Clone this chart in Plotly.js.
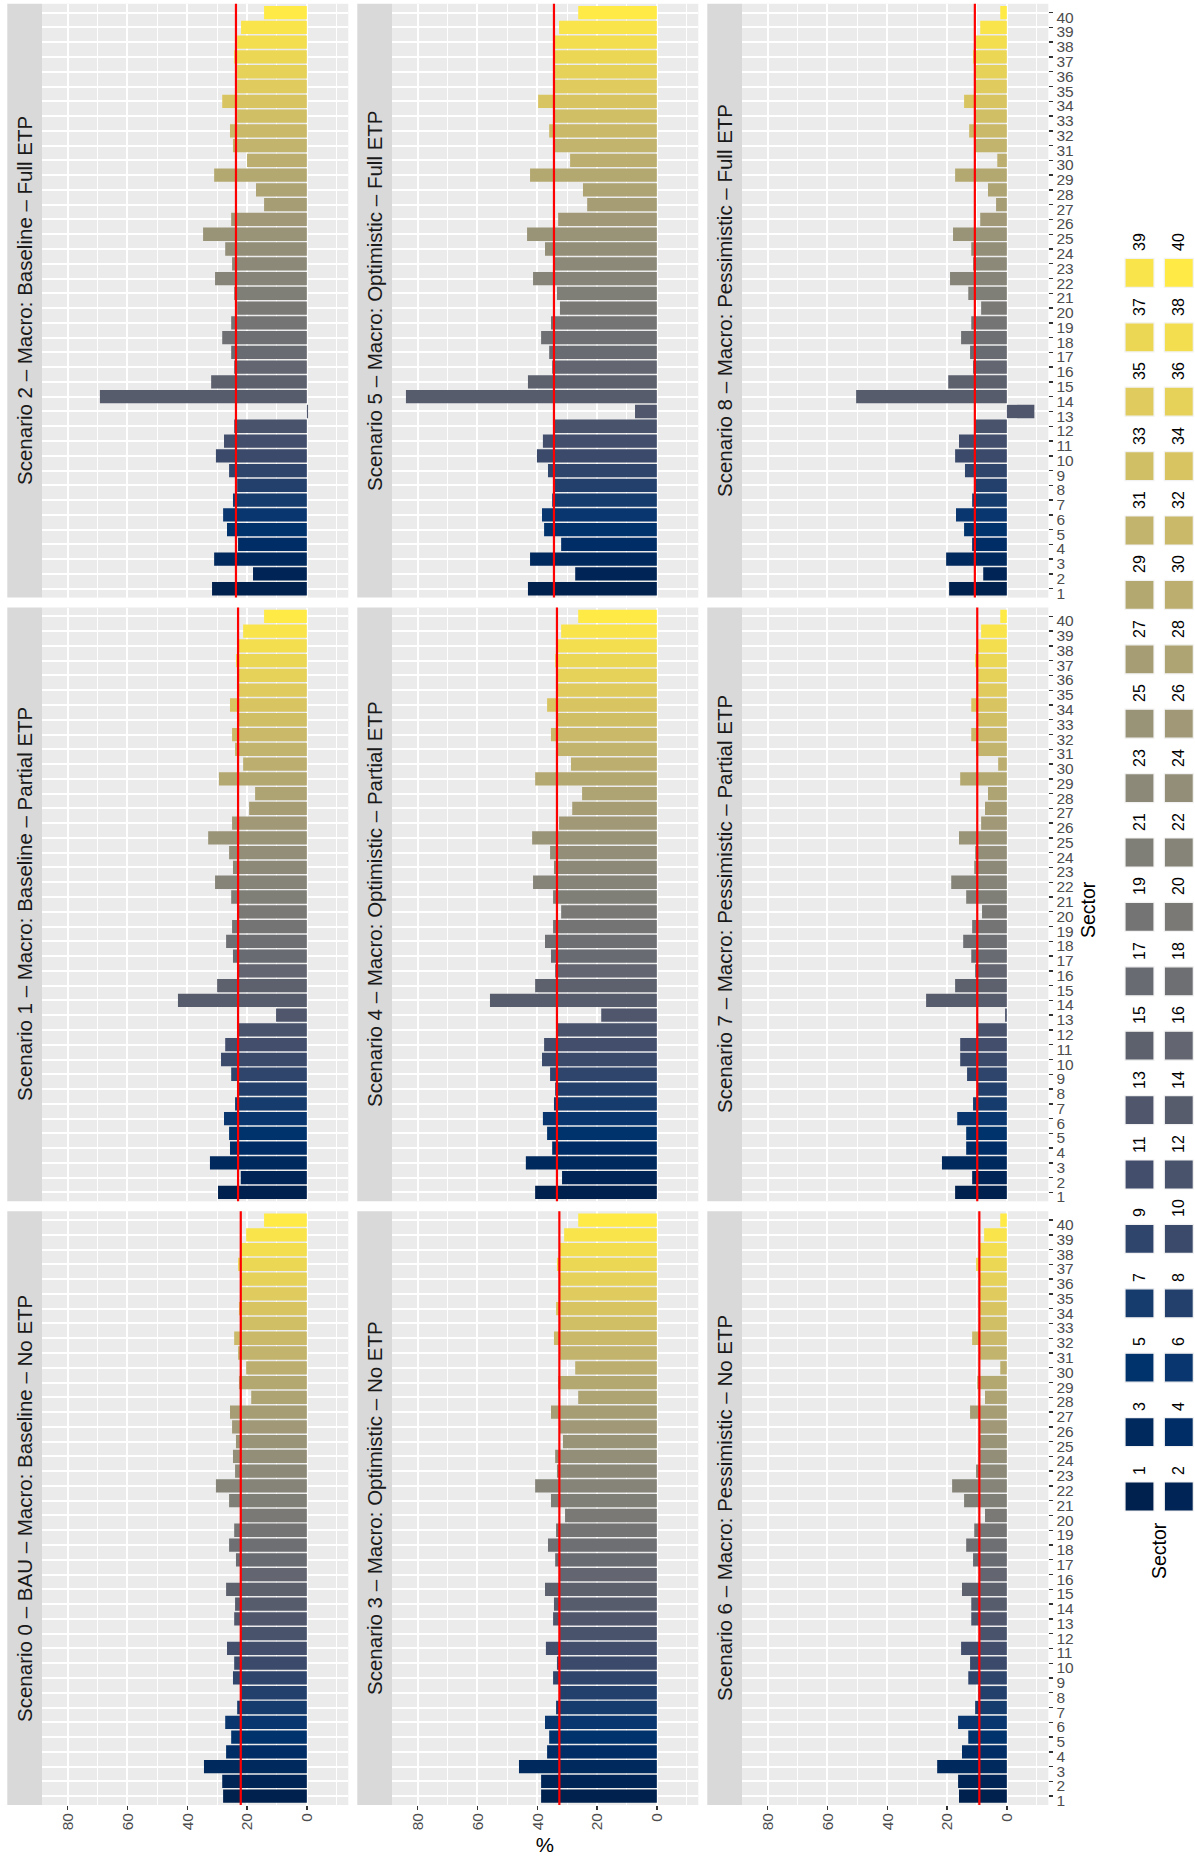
<!DOCTYPE html>
<html>
<head>
<meta charset="utf-8">
<script src="https://cdn.plot.ly/plotly-3.0.1.min.js"></script>
<style>
html, body { margin:0; padding:0; width:1195px; height:1859px; overflow:hidden; background:#ffffff; }
#wrap { position:absolute; left:0; top:0; width:1859px; height:1195px; transform-origin:0 0; transform:translateY(1859px) rotate(-90deg); }
#chart { width:1859px; height:1195px; }
</style>
</head>
<body>
<div id="wrap"><div id="chart"></div></div>
<script>
// ---------- data ----------
const sectors = [1,2,3,4,5,6,7,8,9,10,11,12,13,14,15,16,17,18,19,20,21,22,23,24,25,26,27,28,29,30,31,32,33,34,35,36,37,38,39,40];
const sectorLabels = ["1","2","3","4","5","6","7","8","9","10","11","12","13","14","15","16","17","18","19","20","21","22","23","24","25","26","27","28","29","30","31","32","33","34","35","36","37","38","39","40"];
const valueTicks = [0, 20, 40, 60, 80];
const valueTickLabels = ["0", "20", "40", "60", "80"];

const scenarioTitles = [
  "Scenario 0 – BAU – Macro: Baseline – No ETP",
  "Scenario 1 – Macro: Baseline – Partial ETP",
  "Scenario 2 – Macro: Baseline – Full ETP",
  "Scenario 3 – Macro: Optimistic – No ETP",
  "Scenario 4 – Macro: Optimistic – Partial ETP",
  "Scenario 5 – Macro: Optimistic – Full ETP",
  "Scenario 6 – Macro: Pessimistic – No ETP",
  "Scenario 7 – Macro: Pessimistic – Partial ETP",
  "Scenario 8 – Macro: Pessimistic – Full ETP"
];

const scen0 = [28.0,28.3,34.4,27.0,25.3,27.3,23.3,22.0,24.7,24.3,26.7,22.0,24.3,24.0,27.0,22.0,23.7,26.0,24.3,22.0,26.0,30.4,24.0,24.7,23.7,25.0,25.7,18.6,22.7,20.3,23.0,24.3,22.0,22.7,22.0,22.0,23.0,22.0,20.3,14.3];
const scen1 = [29.7,22.1,32.4,25.7,26.0,27.7,24.0,23.0,25.3,28.7,27.3,23.0,10.3,43.1,30.0,23.0,24.7,27.0,25.0,23.0,25.3,30.7,24.7,26.0,33.0,25.0,19.3,17.3,29.4,21.3,24.0,25.0,22.7,25.7,22.7,22.7,23.7,22.7,21.3,14.3];
const scen2 = [31.7,18.0,31.0,23.0,26.7,28.0,24.7,23.3,26.0,30.4,27.7,24.3,-0.4,69.2,32.0,24.3,25.3,28.3,25.3,23.3,24.3,30.7,25.0,27.3,34.7,25.3,14.3,17.0,31.0,20.0,24.7,25.7,23.3,28.3,23.3,23.3,24.3,23.3,22.0,14.3];
const scen3 = [38.7,38.7,46.1,36.7,36.0,37.4,33.7,32.4,34.7,33.4,37.1,32.4,34.7,34.4,37.4,32.4,34.0,36.4,33.7,30.7,35.4,40.7,33.4,34.0,31.4,32.4,35.4,26.3,33.0,27.3,32.4,34.4,32.4,33.7,32.4,32.4,33.4,32.4,31.0,26.3];
const scen4 = [40.7,31.7,43.8,35.0,36.7,38.1,34.4,34.0,35.7,38.4,37.7,33.4,18.6,55.8,40.7,34.0,35.4,37.4,34.7,32.0,34.7,41.4,34.4,35.7,41.7,32.7,28.3,25.0,40.7,28.7,33.4,35.4,33.4,36.7,33.4,33.4,34.0,33.4,32.0,26.3];
const scen5 = [43.1,27.3,42.4,32.0,37.7,38.4,35.0,34.2,36.4,40.1,38.1,34.4,7.3,83.9,43.1,35.0,36.0,38.7,35.4,32.4,33.4,41.4,34.2,37.4,43.4,33.0,23.3,24.7,42.4,29.0,34.2,36.0,34.2,39.7,34.2,34.2,34.2,34.2,32.7,26.3];
const scen6 = [16.0,16.3,23.3,15.0,12.9,16.3,10.6,9.5,12.9,12.3,15.3,9.2,11.9,11.9,15.0,9.2,11.3,13.6,10.9,7.3,14.3,18.3,10.3,9.4,9.2,9.2,12.3,7.3,9.9,2.2,9.2,11.6,9.2,9.2,9.2,9.2,10.3,9.2,7.6,2.2];
const scen7 = [17.3,11.6,21.7,13.6,13.6,16.6,11.3,9.9,13.3,15.6,15.6,9.9,0.6,27.0,17.3,10.6,11.9,14.6,11.6,8.3,13.6,18.6,10.9,10.6,16.0,8.6,7.3,6.3,15.6,2.9,10.3,11.9,9.9,11.9,9.9,9.9,10.6,9.6,8.6,2.2];
const scen8 = [19.3,7.9,20.3,11.6,14.3,17.0,11.6,10.7,14.0,17.3,16.0,10.7,-9.2,50.4,19.6,11.3,12.3,15.3,11.9,8.6,12.9,19.0,11.3,11.9,18.0,8.9,3.6,6.3,17.3,3.2,10.7,12.6,10.7,14.3,10.7,10.7,11.3,10.3,8.9,2.2];

const scenarioMeans = [22.1, 23.0, 23.7, 32.6, 33.4, 34.4, 9.2, 9.9, 10.7];

// ---------- styling ----------
const cividisStops = [
  [0,32,77],[0,51,111],[57,72,107],[87,92,109],[112,113,115],
  [138,135,121],[166,157,117],[196,181,108],[228,207,91],[255,234,70]
];
function cividis(t) {
  const n = cividisStops.length - 1;
  const p = t * n;
  const i = Math.min(Math.floor(p), n - 1);
  const f = p - i;
  const a = cividisStops[i], b = cividisStops[i + 1];
  const c = a.map((v, k) => Math.round(v + (b[k] - v) * f));
  return 'rgb(' + c.join(',') + ')';
}
const sectorColors = sectors.map((s, i) => cividis(i / (sectors.length - 1)));

const W = 1859, H = 1195;
const FONT = 'Liberation Sans, Arial, Helvetica, sans-serif';
const colX0 = [54, 657.7, 1261.4];
const panelW = 593.8;
const rowTop = [7.3, 357.3, 707.3];
const stripH = 34.7;
const panelH = 306.3;
const yRange = [-13.86, 88.56];

const allData = [scen0, scen1, scen2, scen3, scen4, scen5, scen6, scen7, scen8];

const traces = [];
const layout = {
  width: W, height: H, autosize: false,
  margin: {l: 0, r: 0, t: 0, b: 0, pad: 0},
  paper_bgcolor: '#FFFFFF',
  plot_bgcolor: '#EBEBEB',
  showlegend: false,
  bargap: 0.1,
  font: {family: FONT, color: '#1A1A1A'},
  shapes: [],
  annotations: []
};

for (let s = 0; s < 9; s++) {
  const r = Math.floor(s / 3), c = s % 3;
  const suf = s === 0 ? '' : String(s + 1);
  const x0 = colX0[c], x1 = colX0[c] + panelW;
  const yTop = rowTop[r] + stripH, yBot = yTop + panelH;

  layout['xaxis' + suf] = {
    domain: [x0 / W, x1 / W], anchor: 'y' + suf,
    range: [0.4, 40.6], tickmode: 'array', tickvals: sectors, ticktext: sectorLabels,
    showticklabels: r === 2, ticks: r === 2 ? 'outside' : '', ticklen: 4, tickwidth: 1.4, tickcolor: '#333333',
    tickangle: 90, ticklabelshift: -5, tickfont: {family: FONT, size: 15.5, color: '#4D4D4D'},
    showgrid: true, gridcolor: '#FFFFFF', gridwidth: 2, zeroline: false, showline: false, fixedrange: true
  };
  layout['yaxis' + suf] = {
    domain: [1 - yBot / H, 1 - yTop / H], anchor: 'x' + suf,
    range: yRange, tickmode: 'array', tickvals: valueTicks, ticktext: valueTickLabels,
    showticklabels: c === 0, ticks: c === 0 ? 'outside' : '', ticklen: 4, tickwidth: 1.4, tickcolor: '#333333',
    tickfont: {family: FONT, size: 15.5, color: '#4D4D4D'},
    showgrid: true, gridcolor: '#FFFFFF', gridwidth: 2,
    minor: {tickmode: 'array', tickvals: [-10, 10, 30, 50, 70], showgrid: true, gridcolor: '#FFFFFF', gridwidth: 1, ticks: ''},
    zeroline: false, showline: false, fixedrange: true
  };

  traces.push({
    type: 'bar', x: sectors, y: allData[s],
    xaxis: 'x' + suf, yaxis: 'y' + suf,
    width: 0.9,
    marker: {color: sectorColors, line: {width: 0}},
    hoverinfo: 'skip', showlegend: false
  });

  // mean line
  layout.shapes.push({
    type: 'line', xref: 'x' + suf + ' domain', yref: 'y' + suf,
    x0: 0, x1: 1, y0: scenarioMeans[s], y1: scenarioMeans[s],
    line: {color: '#FF0000', width: 2.2}, layer: 'above'
  });

  // strip
  layout.shapes.push({
    type: 'rect', xref: 'paper', yref: 'paper',
    x0: x0 / W, x1: x1 / W, y0: 1 - (rowTop[r] + stripH) / H, y1: 1 - rowTop[r] / H,
    fillcolor: '#D9D9D9', line: {width: 0}, layer: 'below'
  });
  layout.annotations.push({
    xref: 'paper', yref: 'paper', x: (x0 + x1) / 2 / W, y: 1 - (rowTop[r] + stripH / 2) / H,
    text: scenarioTitles[s], showarrow: false, xanchor: 'center', yanchor: 'middle',
    font: {family: FONT, size: 20.5, color: '#1A1A1A'}
  });
}

// axis titles
layout.annotations.push({
  xref: 'paper', yref: 'paper', x: 13 / W, y: 1 - 545 / H, text: '%', textangle: -90,
  showarrow: false, xanchor: 'center', yanchor: 'middle', font: {family: FONT, size: 20.5, color: '#000000'}
});
layout.annotations.push({
  xref: 'paper', yref: 'paper', x: 950 / W, y: 1 - 1088 / H, text: 'Sector',
  showarrow: false, xanchor: 'center', yanchor: 'middle', font: {family: FONT, size: 19.5, color: '#000000'}
});

// legend (two rows: odd sectors on top, even below)
const keyX0 = 348, keyPitch = 64.4, keySize = 29;
const keyRowTop = [1125, 1164.3];
layout.annotations.push({
  xref: 'paper', yref: 'paper', x: 339 / W, y: 1 - 1159 / H, text: 'Sector',
  showarrow: false, xanchor: 'right', yanchor: 'middle', font: {family: FONT, size: 19.5, color: '#000000'}
});
sectors.forEach((sec, i) => {
  const j = Math.floor(i / 2), row = i % 2;
  const kx = keyX0 + j * keyPitch;
  const ky = keyRowTop[row];
  layout.shapes.push({
    type: 'rect', xref: 'paper', yref: 'paper',
    x0: kx / W, x1: (kx + keySize) / W, y0: 1 - (ky + keySize) / H, y1: 1 - ky / H,
    fillcolor: sectorColors[i], line: {color: '#F2F2F2', width: 1.2}
  });
  layout.annotations.push({
    xref: 'paper', yref: 'paper', x: (kx + keySize + 5) / W, y: 1 - (ky + keySize / 2) / H,
    text: sectorLabels[i], showarrow: false, xanchor: 'left', yanchor: 'middle',
    font: {family: FONT, size: 16, color: '#000000'}
  });
});

Plotly.newPlot('chart', traces, layout, {staticPlot: true, displayModeBar: false, responsive: false});
</script>
</body>
</html>
